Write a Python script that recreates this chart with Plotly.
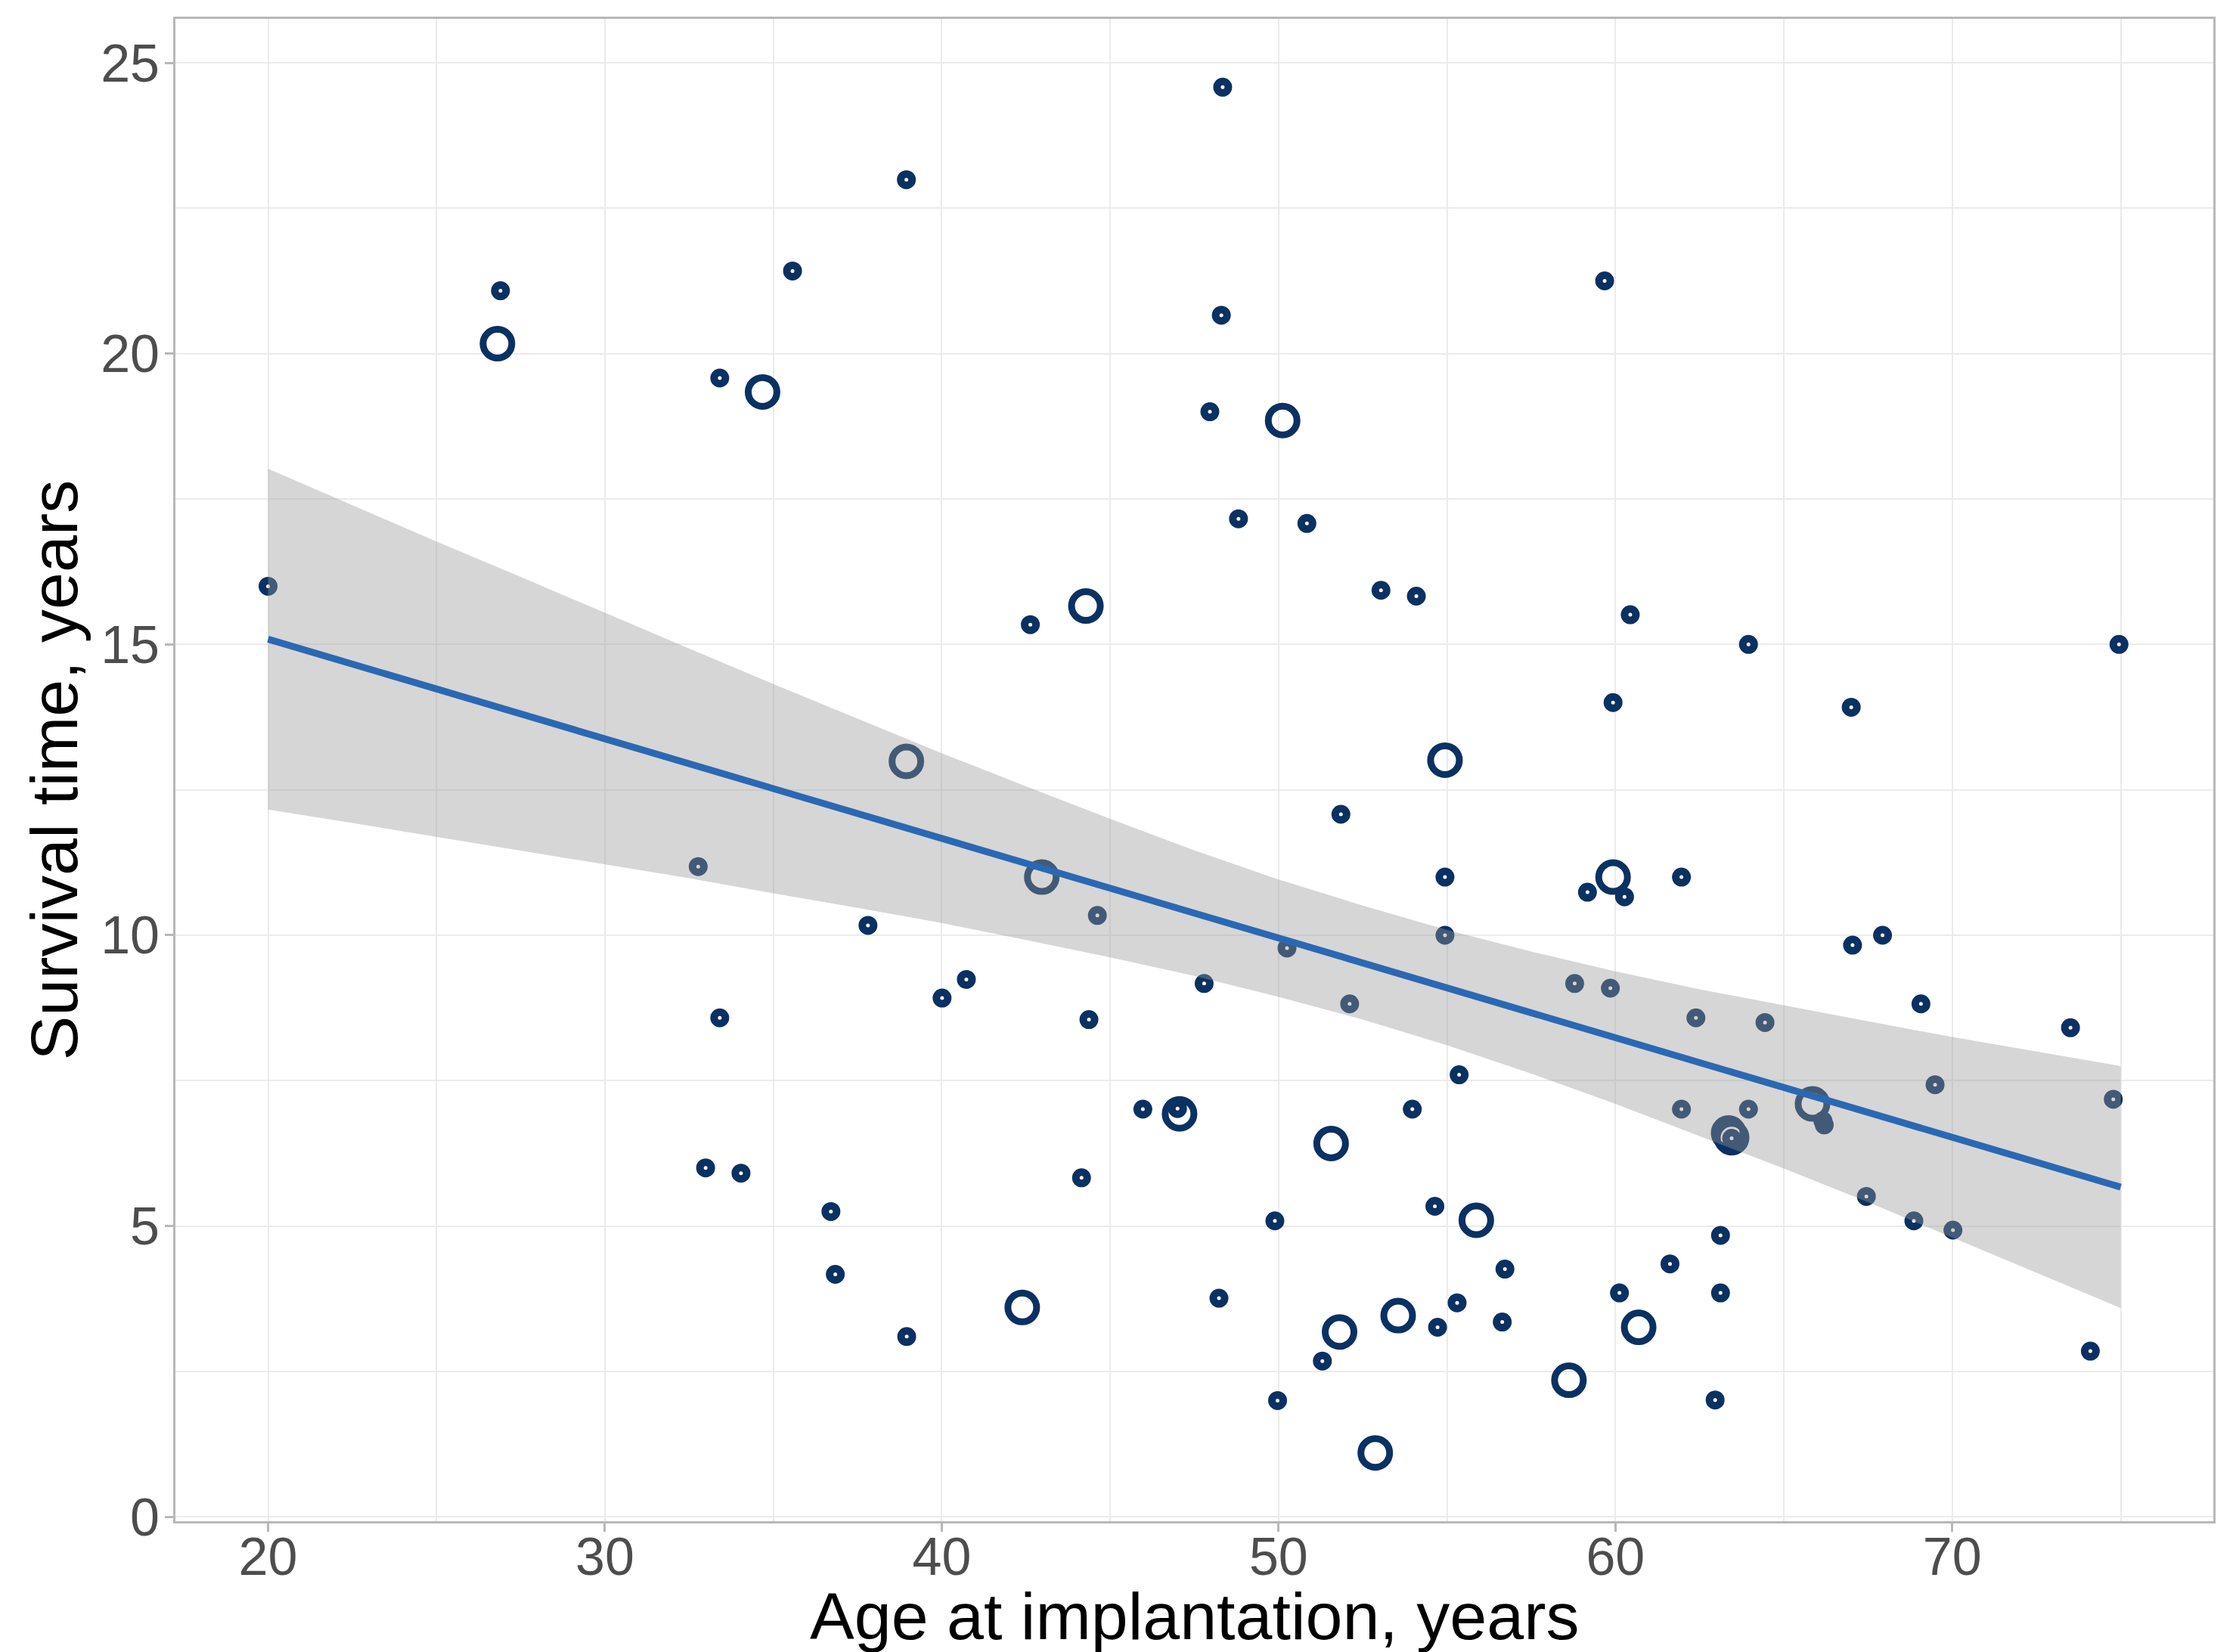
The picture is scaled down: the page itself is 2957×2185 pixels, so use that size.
import plotly.graph_objects as go

# ---- data ----
# small circles (age at implantation, survival time)
small_age = [20.0, 26.9, 33.41, 35.57, 38.95, 48.34, 48.30, 47.96, 48.81, 50.84,
             59.68, 53.04, 54.09, 42.63, 60.44, 63.95, 74.95, 59.93, 67.0, 51.85,
             32.77, 54.94, 61.96, 59.17, 60.27, 44.62, 37.81, 54.94, 67.93, 67.04,
             50.25, 40.73, 40.01, 47.79, 58.79, 59.85, 52.11, 69.07, 33.41, 44.37,
             62.39, 64.44, 73.51, 55.36, 69.49, 74.78, 66.16, 66.20, 45.97, 47.0,
             53.97, 61.96, 63.95, 63.45, 44.15, 32.99, 34.04, 36.71,
             67.45, 54.64, 49.89, 68.86, 70.02, 63.12, 36.84, 56.72, 61.62, 60.12,
             63.12, 48.23, 55.30, 56.64, 54.72, 38.96, 51.30, 74.10, 49.97, 62.96]
small_surv = [16.0, 21.08, 19.58, 21.42, 22.99, 24.58, 20.66, 19.0, 17.16, 17.08,
              21.25, 15.93, 15.83, 15.34, 15.51, 15.0, 15.0, 14.0, 13.92, 12.08,
              11.18, 11.0, 11.0, 10.74, 10.66, 10.34, 10.17, 10.0, 10.0, 9.83,
              9.78, 9.24, 8.92, 9.17, 9.17, 9.09, 8.82, 8.82, 8.58, 8.55,
              8.58, 8.50, 8.41, 7.60, 7.43, 7.18, 6.81, 6.74, 7.01, 7.02,
              7.01, 7.01, 7.01, 6.51, 5.83, 6.0, 5.91, 5.25,
              5.51, 5.34, 5.09, 5.09, 4.93, 4.84, 4.17, 4.26, 4.35, 3.85,
              3.85, 3.76, 3.68, 3.35, 3.26, 3.10, 2.68, 2.85, 2.0, 2.01]

# large circles
large_age = [26.81, 34.68, 50.12, 44.28, 54.94, 38.95, 42.97, 59.93, 65.85, 47.06,
             63.45, 63.36, 51.56, 55.87, 42.39, 53.55, 60.69, 51.81, 58.62, 52.87]
large_surv = [20.17, 19.34, 18.85, 15.66, 13.01, 12.99, 11.0, 11.0, 7.10, 6.93,
              6.52, 6.60, 6.42, 5.10, 3.60, 3.46, 3.26, 3.18, 2.35, 1.10]

# linear fit line and its confidence band
fit_age = [20, 75]
fit_surv = [15.09, 5.67]
band_age = [20, 22.5, 25, 27.5, 30, 32.5, 35, 37.5, 40, 42.5, 45, 47.5,
            50, 52.5, 55, 57.5, 60, 62.5, 65, 67.5, 70, 72.5, 75]
band_upper = [18.02, 17.39, 16.77, 16.16, 15.54, 14.93, 14.32, 13.72, 13.13, 12.56, 12.00, 11.46,
              10.96, 10.51, 10.09, 9.72, 9.38, 9.07, 8.79, 8.52, 8.25, 8.00, 7.75]
band_lower = [12.16, 11.93, 11.69, 11.46, 11.22, 10.98, 10.72, 10.47, 10.21, 9.92, 9.62, 9.30,
              8.94, 8.55, 8.11, 7.62, 7.10, 6.55, 5.99, 5.41, 4.81, 4.20, 3.59]

x_ticks = [20, 30, 40, 50, 60, 70]
y_ticks = [0, 5, 10, 15, 20, 25]

NAVY = "#0a3162"
FONT = "Liberation Sans, Arial, sans-serif"

fig = go.Figure()

fig.add_trace(go.Scatter(
    x=small_age, y=small_surv, mode="markers", showlegend=False,
    marker=dict(symbol="circle-open", size=15, color=NAVY,
                line=dict(width=10, color=NAVY)),
))
fig.add_trace(go.Scatter(
    x=large_age, y=large_surv, mode="markers", showlegend=False,
    marker=dict(symbol="circle-open", size=38, color=NAVY,
                line=dict(width=9, color=NAVY)),
))
fig.add_trace(go.Scatter(
    x=band_age + band_age[::-1], y=band_upper + band_lower[::-1],
    mode="lines", fill="toself", fillcolor="rgba(153,153,153,0.4)",
    line=dict(width=0), showlegend=False, hoverinfo="skip",
))
fig.add_trace(go.Scatter(
    x=fit_age, y=fit_surv, mode="lines", showlegend=False,
    line=dict(color="#2b68b3", width=9),
))

axis_common = dict(
    showgrid=True, gridcolor="#ebebeb", gridwidth=2, automargin=False,
    zeroline=False, showline=True, mirror=True, linecolor="#b8b8b8", linewidth=3,
    ticks="outside", ticklen=11, tickwidth=3, tickcolor="#b8b8b8",
    tickfont=dict(family=FONT, size=70, color="#4d4d4d"),
)

# the page body adds an 8px offset, so the figure is 8px smaller and shifted
fig.update_layout(
    width=2949, height=2177,
    margin=dict(l=224, r=30, t=17, b=173),
    paper_bgcolor="white", plot_bgcolor="white",
    font=dict(family=FONT),
    xaxis=dict(
        range=[17.25, 77.75], tickvals=x_ticks, ticktext=[str(v) for v in x_ticks],
        minor=dict(dtick=5, tick0=0, showgrid=True, gridcolor="#ebebeb", gridwidth=2, ticks=""),
        ticklabelstandoff=-27,
        **axis_common,
    ),
    yaxis=dict(
        range=[-0.074, 25.754], tickvals=y_ticks, ticktext=[str(v) for v in y_ticks],
        minor=dict(dtick=2.5, tick0=0, showgrid=True, gridcolor="#ebebeb", gridwidth=2, ticks=""),
        ticklabelstandoff=-7,
        **axis_common,
    ),
    annotations=[
        dict(text="Age at implantation, years", xref="paper", yref="paper",
             x=0.5, y=0, xanchor="center", yanchor="middle", yshift=-125,
             showarrow=False, font=dict(family=FONT, size=88, color="black")),
        dict(text="Survival time, years", xref="paper", yref="paper",
             x=0, y=0.5, xanchor="center", yanchor="middle", xshift=-161,
             textangle=-90, showarrow=False,
             font=dict(family=FONT, size=88, color="black")),
    ],
)

fig.write_html("out.html")
